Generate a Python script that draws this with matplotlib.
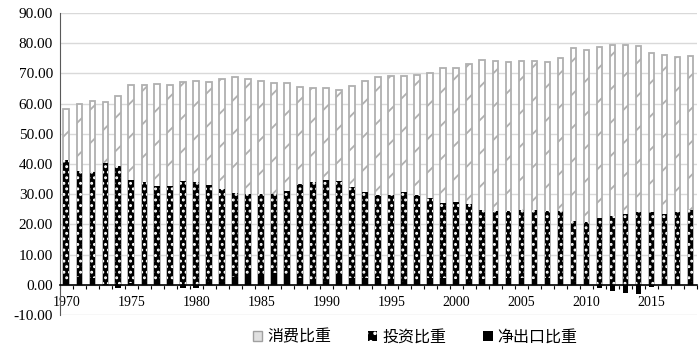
import matplotlib.pyplot as plt
from matplotlib.patches import Patch

years = list(range(1970, 2019))

# 消费比重
consumption = [58.1, 59.9, 60.8, 60.6, 62.4, 66.3, 66.3, 66.5, 66.1, 67.3,
               67.6, 67.2, 68.3, 68.8, 68.0, 67.4, 66.9, 66.7, 65.5, 65.2,
               65.2, 64.6, 65.9, 67.6, 68.9, 69.3, 69.1, 69.4, 70.0, 71.8,
               71.7, 73.2, 74.3, 74.2, 73.9, 74.1, 74.1, 73.9, 75.2, 78.5,
               77.6, 78.7, 79.3, 79.5, 79.0, 76.9, 76.0, 75.6, 75.7]
# 投资比重
investment = [41.3, 37.7, 37.4, 40.4, 39.4, 34.6, 33.9, 32.7, 32.8, 34.4,
              34.1, 32.9, 31.8, 30.3, 30.1, 30.0, 30.1, 31.1, 33.3, 34.0,
              34.7, 34.4, 32.5, 30.8, 29.7, 29.8, 30.9, 29.8, 28.7, 27.1,
              27.5, 26.8, 24.7, 24.6, 24.6, 24.8, 24.8, 24.6, 24.6, 21.3,
              20.9, 22.1, 22.8, 23.3, 24.0, 24.2, 23.5, 24.0, 24.7]
# 净出口比重
net_exports = [1.3, 2.7, 2.2, 0.3, -0.9, 0.5, 0.8, 1.6, 1.5, -1.1,
               -1.1, 0.8, 1.0, 2.7, 3.1, 3.5, 3.9, 3.3, 2.2, 1.7,
               1.1, 3.2, 2.2, 2.4, 2.2, 1.9, 1.1, 1.3, 2.1, 2.4,
               1.9, 1.1, 1.9, 2.2, 2.2, 2.2, 1.9, 2.2, 1.7, 0.8,
               1.7, -1.1, -2.0, -2.8, -3.0, -0.8, 1.3, 1.3, 1.1]

labels = ["消费比重", "投资比重", "净出口比重"]

plt.rcParams['font.family'] = ['Liberation Serif', 'Noto Sans CJK SC']
plt.rcParams['axes.unicode_minus'] = False
plt.rcParams['hatch.linewidth'] = 1.3

fig = plt.figure(figsize=(7, 3.52), dpi=100)
ax = fig.add_axes([0.0857, 0.105, 0.91, 0.858])

x = list(range(len(years)))
w = 0.46

# bars overlap at the same position (Excel style), not stacked
ax.bar(x, consumption, width=w, facecolor='white', edgecolor='#b0b0b0',
       hatch='/', linewidth=1.3, zorder=2)
ax.bar(x, investment, width=w, facecolor='black', edgecolor='white',
       hatch='...', linewidth=0, zorder=3)
ax.bar(x, net_exports, width=w, facecolor='black', edgecolor='black',
       linewidth=0, zorder=4)

ax.set_xlim(-0.5, len(years) - 0.5)
ax.set_ylim(-10, 90)
ax.set_yticks(range(-10, 91, 10))
ax.set_yticklabels([f"{v:.2f}" for v in range(-10, 91, 10)], fontsize=11)
ax.yaxis.grid(True, color='#d9d9d9', linewidth=1)
ax.set_axisbelow(True)

ax.set_xticks([i for i, y in enumerate(years) if y % 5 == 0])
ax.set_xticklabels([str(y) for y in years if y % 5 == 0], fontsize=12)
ax.set_xticks([i - 0.5 for i in x] + [len(years) - 0.5], minor=True)
ax.tick_params(axis='x', which='major', length=0, pad=8)
ax.tick_params(axis='x', which='minor', length=3, width=0.8, direction='out')
ax.tick_params(axis='y', length=0, pad=5)

for s in ['top', 'right']:
    ax.spines[s].set_visible(False)
ax.spines['bottom'].set_position(('data', 0))
ax.spines['bottom'].set_linewidth(1.2)
ax.spines['bottom'].set_zorder(5)
ax.spines['left'].set_color('#595959')

handles = [
    Patch(facecolor='#e0e0e0', edgecolor='#a0a0a0', linewidth=1),
    Patch(facecolor='black', edgecolor='white', hatch='..', linewidth=0),
    Patch(facecolor='black', edgecolor='black', linewidth=0),
]
fig.legend(handles, labels, loc='center', bbox_to_anchor=(0.593, 0.043), ncol=3,
           frameon=False, handlelength=0.6, handleheight=0.6, handletextpad=0.3,
           columnspacing=2.3, prop={'family': 'Noto Sans CJK SC', 'size': 11.5})

fig.savefig("out.png", dpi=100)
